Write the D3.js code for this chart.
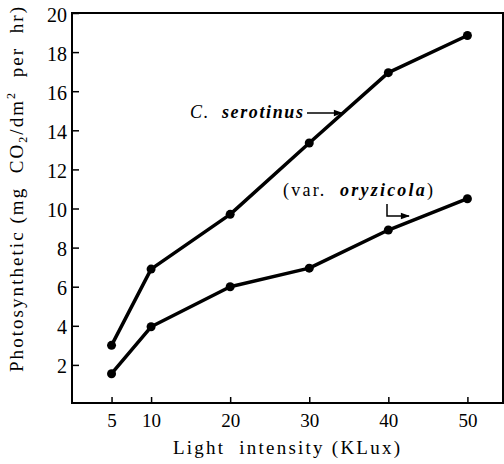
<!DOCTYPE html>
<html>
<head>
	<meta charset="utf-8">
	<title>Photosynthesis vs light intensity</title>
	<script src="https://d3js.org/d3.v7.min.js"></script>
	<style>
		body { margin: 0; background: #fff; }
		svg text { font-family: "Liberation Serif", "Times New Roman", serif !important; fill: #000; }
	</style>
</head>
<body>
	<div id="chart"></div>
	<script type="text/javascript">
		// data
		var lightLevels = [5, 10, 20, 30, 40, 50];
		var serotinus = [3.0, 6.9, 9.7, 13.35, 16.95, 18.85];
		var oryzicola = [1.55, 3.95, 6.0, 6.95, 8.9, 10.5];
		var xTicks = [5, 10, 20, 30, 40, 50];
		var yTicks = [2, 4, 6, 8, 10, 12, 14, 16, 18, 20];

		var width = 504, height = 464;
		var margin = {top: 13, right: 1, bottom: 61, left: 72};

		var svg = d3.select("#chart")
			.append("svg")
				.attr("width", width)
				.attr("height", height);

		var xScale = d3.scaleLinear().domain([0, 54.5]).range([margin.left, width - margin.right]);
		var yScale = d3.scaleLinear().domain([0, 20]).range([height - margin.bottom + 1, margin.top]);

		// frame
		svg.append("rect")
			.attr("x", margin.left)
			.attr("y", margin.top)
			.attr("width", width - margin.right - margin.left)
			.attr("height", height - margin.bottom - margin.top)
			.style("fill", "none")
			.style("stroke", "#000")
			.style("stroke-width", 2);

		// axes, ticks pointing inward
		var xAxis = svg.append("g")
			.attr("transform", "translate(0," + (height - margin.bottom) + ")")
			.call(d3.axisBottom(xScale).tickValues(xTicks).tickSize(-6).tickPadding(11));
		var yAxis = svg.append("g")
			.attr("transform", "translate(" + margin.left + ",0)")
			.call(d3.axisLeft(yScale).tickValues(yTicks).tickSize(-7).tickPadding(5));

		[xAxis, yAxis].forEach(function(ax){
			ax.attr("font-family", null).attr("font-size", null);
			ax.select(".domain").remove();
			ax.selectAll(".tick line").style("stroke", "#000").style("stroke-width", 1.5);
			ax.selectAll(".tick text").style("font-size", "20px");
		});
		xAxis.selectAll(".tick text").style("font-size", "19px");
		yAxis.selectAll(".tick text").attr("dy", "0.4em");

		// axis titles
		svg.append("text")
			.attr("x", 173)
			.attr("y", 454)
			.attr("textLength", 227)
			.attr("lengthAdjust", "spacing")
			.style("font-size", "19px")
			.style("white-space", "pre")
			.text("Light  intensity (KLux)");

		var yTitle = svg.append("text")
			.attr("transform", "translate(23,372) rotate(-90)")
			.attr("textLength", 365)
			.attr("lengthAdjust", "spacing")
			.style("font-size", "19px")
			.style("white-space", "pre");
		yTitle.append("tspan").text("Photosynthetic (mg  CO");
		yTitle.append("tspan").attr("dy", 4).style("font-size", "12px").text("2");
		yTitle.append("tspan").attr("dy", -4).text("/dm");
		yTitle.append("tspan").attr("dy", -8).style("font-size", "12px").text("2");
		yTitle.append("tspan").attr("dy", 8).text("  per  hr)");

		// series
		var line = d3.line()
			.x(function(d){ return xScale(d[0]); })
			.y(function(d){ return yScale(d[1]); });

		[serotinus, oryzicola].forEach(function(series){
			var pts = lightLevels.map(function(x, i){ return [x, series[i]]; });
			svg.append("path")
				.datum(pts)
				.attr("d", line)
				.style("fill", "none")
				.style("stroke", "#000")
				.style("stroke-width", 3.5)
				.style("stroke-linejoin", "round");
			svg.selectAll(null)
				.data(pts)
				.enter().append("circle")
				.attr("cx", function(d){ return xScale(d[0]); })
				.attr("cy", function(d){ return yScale(d[1]); })
				.attr("r", 4.5)
				.style("fill", "#000");
		});

		// labels with arrows
		svg.append("defs").append("marker")
			.attr("id", "arrow")
			.attr("viewBox", "0 0 10 10")
			.attr("refX", 9).attr("refY", 5)
			.attr("markerWidth", 8).attr("markerHeight", 6)
			.attr("orient", "auto")
			.append("path").attr("d", "M0,1.5 L10,5 L0,8.5 Z").style("fill", "#000");

		var lab1 = svg.append("text")
			.attr("x", 190).attr("y", 118)
			.attr("textLength", 113)
			.attr("lengthAdjust", "spacing")
			.style("font-size", "18px")
			.style("font-style", "italic")
			.style("white-space", "pre");
		lab1.append("tspan").text("C.  ");
		lab1.append("tspan").style("font-weight", "bold").text("serotinus");
		svg.append("line")
			.attr("x1", 307).attr("y1", 113).attr("x2", 342).attr("y2", 113)
			.style("stroke", "#000").style("stroke-width", 1.5)
			.attr("marker-end", "url(#arrow)");

		var lab2 = svg.append("text")
			.attr("x", 283).attr("y", 196)
			.attr("textLength", 150)
			.attr("lengthAdjust", "spacing")
			.style("font-size", "18px")
			.style("white-space", "pre");
		lab2.append("tspan").text("(var.  ");
		lab2.append("tspan").style("font-style", "italic").style("font-weight", "bold").text("oryzicola");
		lab2.append("tspan").text(")");
		svg.append("path")
			.attr("d", "M387,204 L387,216 L409,216")
			.style("fill", "none")
			.style("stroke", "#000").style("stroke-width", 1.5)
			.attr("marker-end", "url(#arrow)");
	</script>
</body>
</html>
